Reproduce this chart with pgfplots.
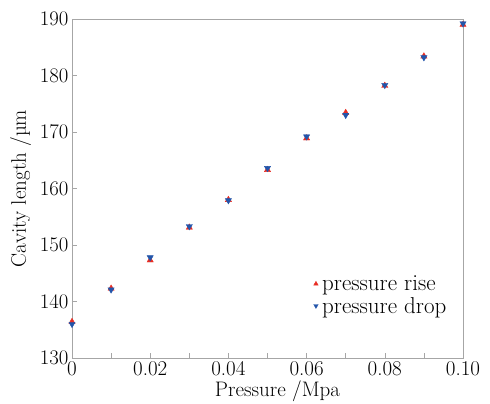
\documentclass[border=0pt]{standalone}
\usepackage{pgfplots}
\pgfplotsset{compat=1.18}
\usetikzlibrary{calc}
\definecolor{rred}{RGB}{232,45,35}
\definecolor{bblue}{RGB}{35,85,170}
\begin{document}
\begin{tikzpicture}
\begin{axis}[
  name=ax,
  scale only axis,
  width=391pt, height=339pt,
  xmin=0, xmax=0.1, ymin=130, ymax=190,
  xtick={0,0.02,0.04,0.06,0.08,0.1},
  xticklabels={0,0.02,0.04,0.06,0.08,0.10},
  minor xtick={0.01,0.03,0.05,0.07,0.09},
  ytick={130,140,...,190},
  tick align=inside,
  xtick pos=bottom, ytick pos=left,
  major tick length=5pt, minor tick length=5pt,
  axis line style={gray!70, line width=0.8pt},
  every tick/.style={gray!70, line width=0.6pt},
  tick label style={font=\fontsize{21}{23}\selectfont, black},
  label style={font=\fontsize{21}{23}\selectfont},
  xlabel={Pressure /Mpa},
  ylabel={Cavity length /µm},
  xlabel style={yshift=2pt, xshift=10pt},
  ylabel style={yshift=2pt},
  legend style={draw=none, fill=none, at={(0.61,0.255)}, anchor=north west,
    font=\fontsize{23}{25}\selectfont, row sep=1pt,
    nodes={inner xsep=4pt}},
  legend image post style={mark size=2.6pt},
  legend cell align=left,
  clip=false,
]
\addplot[only marks, mark=triangle*, mark size=3.6pt, color=rred] coordinates {
(0,136.4) (0.01,142.3) (0.02,147.3) (0.03,153.1) (0.04,158.0) (0.05,163.3)
(0.06,168.9) (0.07,173.4) (0.08,178.2) (0.09,183.4) (0.10,189.0)};
\addlegendentry{pressure rise}
\addplot[only marks, mark=triangle*, mark options={rotate=180}, mark size=3.6pt, color=bblue] coordinates {
(0,136.0) (0.01,142.1) (0.02,147.8) (0.03,153.3) (0.04,157.9) (0.05,163.6)
(0.06,169.2) (0.07,173.0) (0.08,178.3) (0.09,183.2) (0.10,189.2)};
\addlegendentry{pressure drop}
\end{axis}
\pgfresetboundingbox
\path ($(ax.south west)+(-72pt,-46pt)$) rectangle ($(ax.north east)+(27pt,19pt)$);
\end{tikzpicture}
\end{document}
